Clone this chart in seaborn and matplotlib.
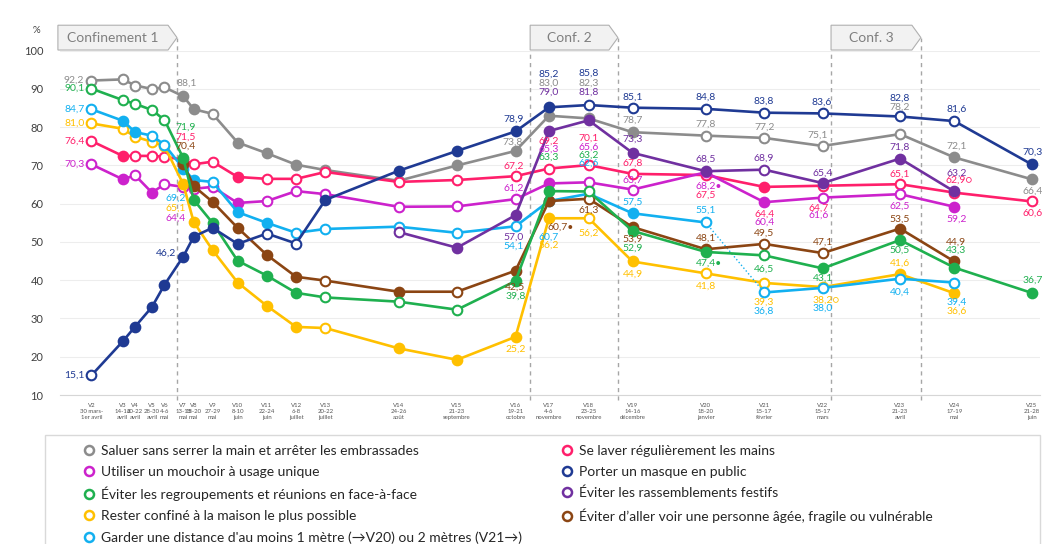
import matplotlib
matplotlib.use("Agg")
import matplotlib.pyplot as plt
import matplotlib.dates as mdates
import matplotlib.transforms as mtransforms
from matplotlib.lines import Line2D
from matplotlib.patches import Polygon, Rectangle
import pandas as pd
import seaborn as sns

# --- data -------------------------------------------------------------------
waves = ["V2", "V3", "V4", "V5", "V6", "V7", "V8", "V9", "V10", "V11", "V12", "V13",
         "V14", "V15", "V16", "V17", "V18", "V19", "V20", "V21", "V22", "V23", "V24", "V25"]
wave_dates = ["2020-03-31", "2020-04-15", "2020-04-21", "2020-04-29", "2020-05-05",
              "2020-05-14", "2020-05-19", "2020-05-28", "2020-06-09", "2020-06-23",
              "2020-07-07", "2020-07-21", "2020-08-25", "2020-09-22", "2020-10-20",
              "2020-11-05", "2020-11-24", "2020-12-15", "2021-01-19", "2021-02-16",
              "2021-03-16", "2021-04-22", "2021-05-18", "2021-06-24"]
tick_labels = ["V2\n30 mars-\n1er avril", "V3\n14-16\navril", "V4\n20-22\navril",
               "V5\n28-30\navril", "V6\n4-6\nmai", "V7\n13-15\nmai", "V8\n18-20\nmai",
               "V9\n27-29\nmai", "V10\n8-10\njuin", "V11\n22-24\njuin", "V12\n6-8\njuillet",
               "V13\n20-22\njuillet", "V14\n24-26\naoût", "V15\n21-23\nseptembre",
               "V16\n19-21\noctobre", "V17\n4-6\nnovembre", "V18\n23-25\nnovembre",
               "V19\n14-16\ndécembre", "V20\n18-20\njanvier", "V21\n15-17\nfévrier",
               "V22\n15-17\nmars", "V23\n21-23\navril", "V24\n17-19\nmai", "V25\n21-28\njuin"]

N = None
saluer = [92.2, 92.5, 90.9, 90.0, 90.4, 88.1, 84.7, 83.5, 76.0, 73.2, 70.2, 68.8,
          66.0, 70.0, 73.8, 83.0, 82.3, 78.7, 77.8, 77.2, 75.1, 78.2, 72.1, 66.4]
saluer_sig = [0, 0, 0, 0, 0, 1, 1, 0, 1, 1, 1, 0, 1, 1, 1, 1, 1, 1, 0, 0, 0, 0, 1, 1]
laver = [76.4, 72.5, 72.5, 72.5, 72.3, 71.5, 70.3, 71.0, 67.0, 66.5, 66.5, 68.3,
         65.7, 66.2, 67.2, 69.2, 70.1, 67.8, 67.5, 64.4, 64.7, 65.1, 62.9, 60.6]
laver_sig = [0, 1, 0, 0, 0, 0, 0, 0, 1, 0, 0, 0, 0, 0, 0, 0, 0, 0, 0, 1, 0, 0, 0, 0]
mouchoir = [70.3, 66.4, 67.4, 62.9, 65.1, 64.4, 63.9, 64.4, 60.2, 60.7, 63.3, 62.5,
            59.2, 59.3, 61.2, 65.3, 65.6, 63.7, 68.2, 60.4, 61.6, 62.5, 59.2, N]
mouchoir_sig = [0, 1, 0, 1, 0, 0, 0, 0, 1, 0, 0, 0, 0, 0, 0, 1, 0, 0, 1, 1, 0, 0, 1, N]
masque = [15.1, 24.0, 27.9, 33.0, 38.8, 46.2, 51.4, 53.7, 49.5, 52.2, 49.6, 61.0,
          68.6, 73.8, 78.9, 85.2, 85.8, 85.1, 84.8, 83.8, 83.6, 82.8, 81.6, 70.3]
masque_sig = [0, 1, 1, 1, 1, 1, 1, 1, 1, 0, 0, 1, 1, 1, 1, 1, 0, 0, 0, 0, 0, 0, 0, 1]
regroupements = [90.1, 87.1, 86.1, 84.5, 81.9, 71.9, 61.0, 55.0, 45.1, 41.2, 36.7, 35.5,
                 34.4, 32.3, 39.8, 63.3, 63.2, 52.9, 47.4, 46.5, 43.1, 50.5, 43.3, 36.7]
regroupements_sig = [0, 0, 0, 0, 0, 1, 1, 1, 1, 1, 1, 0, 0, 0, 1, 1, 0, 1, 1, 0, 1, 1, 1, 1]
festifs = [N, N, N, N, N, N, N, N, N, N, N, N,
           52.6, 48.5, 57.0, 79.0, 81.8, 73.3, 68.5, 68.9, 65.4, 71.8, 63.2, N]
festifs_sig = [N] * 12 + [0, 1, 1, 1, 1, 1, 1, 0, 1, 1, 1, N]
confine = [81.0, 79.6, 77.5, 76.2, 75.1, 65.1, 55.2, 47.9, 39.4, 33.3, 27.8, 27.5,
           22.2, 19.2, 25.2, 56.2, 56.2, 44.9, 41.8, 39.3, 38.2, 41.6, 36.6, N]
confine_sig = [0, 0, 0, 0, 0, 1, 1, 1, 1, 1, 1, 0, 1, 1, 1, 1, 0, 1, 0, 0, 0, 1, 1, N]
agee = [N, N, N, N, N, 70.4, 64.6, 60.5, 53.7, 46.6, 40.9, 39.9,
        37.0, 37.0, 42.5, 60.7, 61.3, 53.9, 48.1, 49.5, 47.1, 53.5, 44.9, N]
agee_sig = [N] * 5 + [1, 1, 1, 1, 1, 1, 0, 1, 0, 1, 1, 0, 1, 1, 0, 0, 1, 1, N]
distance = [84.7, 81.7, 78.7, 77.8, 75.4, 69.2, 66.2, 65.7, 57.8, 55.0, 52.4, 53.4,
            54.0, 52.4, 54.1, 60.7, 62.6, 57.5, 55.1, 36.8, 38.0, 40.4, 39.4, N]
distance_sig = [0, 1, 1, 0, 0, 1, 1, 0, 1, 1, 0, 0, 0, 0, 0, 0, 0, 1, 0, 0, 0, 0, 0, N]

names = {
    "saluer": "Saluer sans serrer la main et arrêter les embrassades",
    "laver": "Se laver régulièrement les mains",
    "mouchoir": "Utiliser un mouchoir à usage unique",
    "masque": "Porter un masque en public",
    "regroupements": "Éviter les regroupements et réunions en face-à-face",
    "festifs": "Éviter les rassemblements festifs",
    "confine": "Rester confiné à la maison le plus possible",
    "agee": "Éviter d’aller voir une personne âgée, fragile ou vulnérable",
    "distance": "Garder une distance d'au moins 1 mètre (→V20) ou 2 mètres (V21→)",
}
confinements = [("Confinement 1", None, "2020-05-11"),
                ("Conf. 2", "2020-10-27", "2020-12-08"),
                ("Conf. 3", "2021-03-20", "2021-05-02")]
label_marks = {("agee", "V17"): "•", ("mouchoir", "V20"): "•",
               ("regroupements", "V20"): "•", ("laver", "V24"): "○", ("confine", "V22"): "○"}

values = {"saluer": (saluer, saluer_sig), "laver": (laver, laver_sig),
          "mouchoir": (mouchoir, mouchoir_sig), "masque": (masque, masque_sig),
          "regroupements": (regroupements, regroupements_sig),
          "festifs": (festifs, festifs_sig), "confine": (confine, confine_sig),
          "agee": (agee, agee_sig), "distance": (distance, distance_sig)}

rows = []
for key, (vals, sig) in values.items():
    for w, d, v, s in zip(waves, wave_dates, vals, sig):
        if v is not None:
            seg = 1 if (key == "distance" and waves.index(w) > waves.index("V20")) else 0
            rows.append(dict(key=key, wave=w, date=pd.Timestamp(d), value=v, filled=s, seg=seg))
df = pd.DataFrame(rows)

# --- styling ------------------------------------------------------------------
colors = {"saluer": "#8C8C8C", "laver": "#FF1F6B", "mouchoir": "#CC22CC",
          "masque": "#1F3A93", "regroupements": "#1FB04F", "festifs": "#7030A0",
          "confine": "#FFC000", "agee": "#8B4513", "distance": "#12B0F0"}
draw_order = ["saluer", "laver", "mouchoir", "confine", "distance", "agee",
              "regroupements", "festifs", "masque"]

# label offsets in pixels (dx, dy[, ha])
L = "right"
label_pos = {
    "saluer": {"V2": (-7, 0, L), "V7": (3, 13), "V16": (-3, 9), "V17": (0, 33), "V18": (0, 35),
               "V19": (0, 12), "V20": (0, 11), "V21": (0, 11), "V22": (-5, 11), "V23": (0, 27),
               "V24": (2, 11), "V25": (1, -12)},
    "laver": {"V2": (-7, 0, L), "V7": (2, 23), "V16": (-2, 10), "V17": (0, 27), "V18": (0, 27),
              "V19": (0, 11), "V20": (0, -20), "V21": (0, -27), "V22": (-4, -22), "V23": (0, 10),
              "V24": (5, 12), "V25": (1, -12)},
    "mouchoir": {"V2": (-7, 0, L), "V7": (-8, -31), "V16": (-2, 11), "V17": (0, 34), "V18": (0, 35),
                 "V19": (0, 9), "V20": (3, -14), "V21": (0, -20), "V22": (-4, -18), "V23": (0, -12),
                 "V24": (2, -12)},
    "masque": {"V2": (-7, 0, L), "V7": (-7, 3, L), "V16": (-2, 12), "V17": (0, 33), "V18": (0, 32),
               "V19": (0, 11), "V20": (0, 12), "V21": (0, 11), "V22": (-1, 11), "V23": (0, 18),
               "V24": (2, 12), "V25": (1, 12)},
    "regroupements": {"V2": (-7, 0, L), "V7": (2, 31), "V16": (0, -15), "V17": (0, 34),
                      "V18": (0, 36), "V19": (0, -17), "V20": (3, -11), "V21": (0, -14),
                      "V22": (0, -10), "V23": (0, -10), "V24": (2, 17), "V25": (1, 13)},
    "festifs": {"V16": (-2, -22), "V17": (0, 39), "V18": (0, 28), "V19": (0, 14), "V20": (0, 12),
                "V21": (0, 11), "V22": (0, 10), "V23": (0, 11), "V24": (2, 18)},
    "confine": {"V2": (-7, 0, L), "V7": (-8, -24), "V16": (0, -12), "V17": (0, -27), "V18": (0, -15),
                "V19": (0, -13), "V20": (0, -13), "V21": (0, -19), "V22": (3, -13), "V23": (0, 11),
                "V24": (2, -18)},
    "agee": {"V7": (2, 18), "V16": (0, -17), "V17": (12, -26), "V18": (0, -11), "V19": (0, -12),
             "V20": (0, 11), "V21": (0, 11), "V22": (0, 11), "V23": (0, 9), "V24": (2, 19)},
    "distance": {"V2": (-7, 0, L), "V7": (-8, -30), "V16": (-2, -20), "V17": (0, -36), "V18": (0, 31),
                 "V19": (0, 11), "V20": (0, 12), "V21": (0, -19), "V22": (0, -20), "V23": (0, -13),
                 "V24": (2, -20)},
}

sns.set_style("white")
plt.rcParams["font.family"] = ["Lato", "DejaVu Sans"]

fig = plt.figure(figsize=(10.56, 5.44), dpi=100)
ax = fig.add_axes([60 / 1056, 149 / 544, 980 / 1056, 344.3 / 544])

for i, key in enumerate(draw_order):
    col = colors[key]
    d = df[df.key == key]
    z = 3 + i
    for seg, g in d.groupby("seg"):
        sns.lineplot(data=g, x="date", y="value", color=col, lw=1.9, ax=ax,
                     estimator=None, sort=False, legend=False, zorder=z)
    if key == "distance":
        link = d[d.wave.isin(["V20", "V21"])]
        sns.lineplot(data=link, x="date", y="value", color=col, lw=1.0, ls=":", ax=ax,
                     estimator=None, legend=False, zorder=z)
    sns.scatterplot(data=d[d.filled == 1], x="date", y="value", color=col, edgecolor=col,
                    s=48, linewidth=1.5, ax=ax, legend=False, zorder=z + 0.5)
    sns.scatterplot(data=d[d.filled == 0], x="date", y="value", color="white", edgecolor=col,
                    s=48, linewidth=1.5, ax=ax, legend=False, zorder=z + 0.5)
    for _, r in d.iterrows():
        pos = label_pos[key].get(r.wave)
        if pos is None:
            continue
        ha = pos[2] if len(pos) > 2 else "center"
        txt = f"{r.value:.1f}".replace(".", ",") + label_marks.get((key, r.wave), "")
        ax.annotate(txt, (mdates.date2num(r.date), r.value), xytext=(pos[0], pos[1]),
                    textcoords="offset pixels", ha=ha, va="center", fontsize=7.5,
                    color=col, zorder=30, annotation_clip=False)

# axes
xmin, xmax = pd.Timestamp("2020-03-16"), pd.Timestamp("2021-06-28")
ax.set_xlim(xmin, xmax)
ax.set_ylim(10, 100)
ax.set_yticks(range(10, 101, 10))
ax.set_xticks(pd.to_datetime(wave_dates))
ax.set_xticklabels(tick_labels, fontsize=4.3, color="#555555", linespacing=1.35)
ax.tick_params(axis="x", direction="inout", length=3, width=3, color="#8A8A8A", pad=4)
ax.tick_params(axis="y", length=0, labelsize=8, labelcolor="#404040", pad=12)
ax.set_xlabel("")
ax.set_ylabel("")
ax.yaxis.grid(True, color="#EDEDED", lw=0.8)
ax.set_axisbelow(True)
for s in ["top", "right", "left"]:
    ax.spines[s].set_visible(False)
ax.spines["bottom"].set_color("#D6D6D6")
ax.text(-0.02, 1.05, "%", transform=ax.transAxes, fontsize=7, color="#404040", ha="right")

# confinement banners
trans = mtransforms.blended_transform_factory(ax.transData, ax.transAxes)
notch = 4.3
for label, start, end in confinements:
    x1 = mdates.date2num(pd.Timestamp(end))
    x0 = mdates.date2num(xmin) - 1 if start is None else mdates.date2num(pd.Timestamp(start))
    poly = Polygon([(x0, 1.074), (x1 - notch, 1.074), (x1, 1.038), (x1 - notch, 1.002), (x0, 1.002)],
                   closed=True, transform=trans, facecolor="#F2F2F2", edgecolor="#B0B0B0",
                   lw=0.8, clip_on=False, zorder=2)
    ax.add_patch(poly)
    ax.text((x0 + x1 - notch) / 2, 1.038, label, transform=trans, ha="center", va="center",
            fontsize=10, color="#7F7F7F", clip_on=False)
    for xv in ([x1] if start is None else [x0, x1]):
        ax.plot([xv, xv], [-0.015, 1.038 if xv == x1 else 1.0], transform=trans, color="#A6A6A6",
                lw=1, ls=(0, (3, 3)), clip_on=False, zorder=1)

# legend
def handle(key):
    return Line2D([], [], marker="o", ls="", markersize=6.5, markerfacecolor="white",
                  markeredgecolor=colors[key], markeredgewidth=1.8)

col1 = ["saluer", "mouchoir", "regroupements", "confine", "distance"]
col2 = ["laver", "masque", "festifs", "agee"]
for keys, x in [(col1, 83.5 / 1056), (col2, 561.5 / 1056)]:
    fig.legend([handle(k) for k in keys], [names[k] for k in keys], loc="upper left",
               bbox_to_anchor=(x, 99 / 544), frameon=False, fontsize=10, handlelength=0.8,
               handletextpad=0.45, labelspacing=0.64, borderpad=0, borderaxespad=0,
               labelcolor="#262626")
fig.patches.append(Rectangle((45 / 1056, -0.02), 995 / 1056, 0.22, transform=fig.transFigure,
                             fill=False, edgecolor="#D9D9D9", lw=1))

fig.savefig("out.png", dpi=100)
